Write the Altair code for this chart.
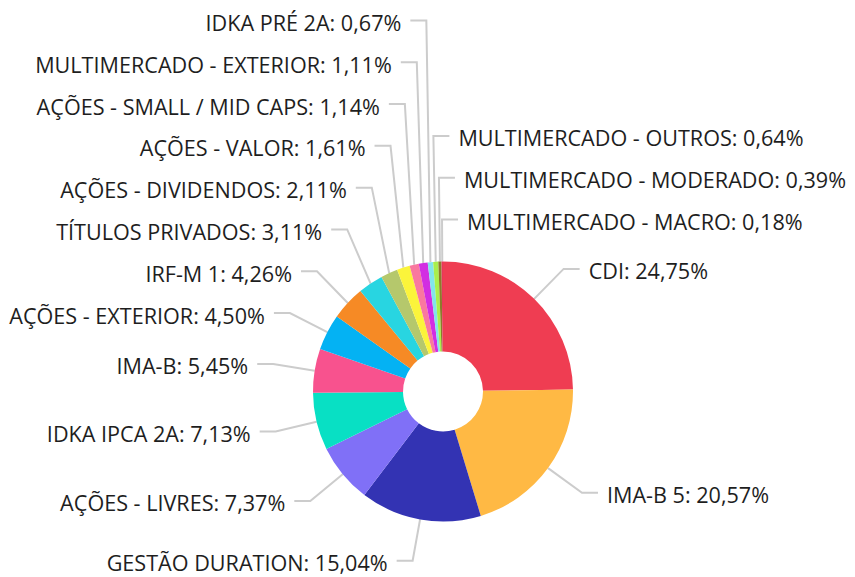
import math
import altair as alt
import pandas as pd

# ---- data -----------------------------------------------------------------
categories = [
    "CDI", "IMA-B 5", "GESTÃO DURATION", "AÇÕES - LIVRES", "IDKA IPCA 2A",
    "IMA-B", "AÇÕES - EXTERIOR", "IRF-M 1", "TÍTULOS PRIVADOS",
    "AÇÕES - DIVIDENDOS", "AÇÕES - VALOR", "AÇÕES - SMALL / MID CAPS",
    "MULTIMERCADO - EXTERIOR", "IDKA PRÉ 2A", "MULTIMERCADO - OUTROS",
    "MULTIMERCADO - MODERADO", "MULTIMERCADO - MACRO",
]
values = [24.75, 20.57, 15.04, 7.37, 7.13, 5.45, 4.50, 4.26, 3.11,
          2.11, 1.61, 1.14, 1.11, 0.67, 0.64, 0.39, 0.18]
colors = [
    "#ef3d52", "#ffb944", "#3333b3", "#8070f7", "#08e0c4",
    "#f8528e", "#04b2f3", "#f68a25", "#28d5e1",
    "#b5c86c", "#fbf43b", "#f9789f",
    "#d22ee2", "#82e5ea", "#a9ef4b",
    "#8d7a2a", "#e8375a",
]

# ---- layout / style constants ----------------------------------------------
W, H = 839, 568
CX, CY = 435, 383.5
R_OUT, R_IN = 130, 40
R_ELBOW = 172
SEG = 16
GAP = 9
SPACING = 41.8
WRAP = 0.012          # slices this close before 12 o'clock label on the right
FONT = "Open Sans"
FSIZE = 21.6
LINE_COLOR = "#cccccc"
TEXT_COLOR = "#1e1e1e"

total = sum(values)
items = []
cum = 0.0
for i, (c, v) in enumerate(zip(categories, values)):
    mid = (cum + v / 2) / total
    cum += v
    ang = 2 * math.pi * mid
    right = mid < 0.5 or mid > 1 - WRAP
    signed = mid - 1 if mid > 0.5 else mid
    label = f"{c}: {v:.2f}%".replace(".", ",")
    items.append(dict(
        idx=i, cat=c, label=label, right=right, mid=mid, signed=signed,
        ex=CX + R_OUT * math.sin(ang), ey=CY - R_OUT * math.cos(ang),
        bx=CX + R_ELBOW * math.sin(ang), ny=CY - R_ELBOW * math.cos(ang),
    ))

# label de-overlap, per side, pushing upwards from the bottom
right_side = sorted([d for d in items if d["right"]], key=lambda d: d["signed"])
left_side = sorted([d for d in items if not d["right"]], key=lambda d: -d["mid"])
for side in (right_side, left_side):
    for k in range(len(side) - 1, -1, -1):
        y = side[k]["ny"]
        if k < len(side) - 1:
            y = min(y, side[k + 1]["ly"] - SPACING)
        side[k]["ly"] = y

line_rows, text_rows = [], []
for d in items:
    sgn = 1 if d["right"] else -1
    end_x = d["bx"] + sgn * SEG
    line_rows += [
        dict(label=d["label"], o=0, px=d["ex"], py=d["ey"]),
        dict(label=d["label"], o=1, px=d["bx"], py=d["ly"]),
        dict(label=d["label"], o=2, px=end_x, py=d["ly"]),
    ]
    text_rows.append(dict(label=d["label"], tx=end_x + sgn * GAP, ty=d["ly"],
                          side="right" if d["right"] else "left"))

slices = pd.DataFrame({"cat": categories, "value": values,
                       "idx": list(range(len(values)))})
lines = pd.DataFrame(line_rows)
texts = pd.DataFrame(text_rows)

pie = alt.Chart(slices).mark_arc(outerRadius=R_OUT, innerRadius=R_IN).encode(
    theta=alt.Theta("value:Q", stack=True),
    order=alt.Order("idx:Q"),
    color=alt.Color("cat:N", scale=alt.Scale(domain=categories, range=colors),
                    legend=None),
    x=alt.value(CX),
    y=alt.value(CY),
)

leaders = alt.Chart(lines).mark_line(color=LINE_COLOR, strokeWidth=2).encode(
    x=alt.X("px:Q", scale=None, axis=None),
    y=alt.Y("py:Q", scale=None, axis=None),
    detail="label:N",
    order="o:Q",
)

text_base = alt.Chart(texts).encode(
    x=alt.X("tx:Q", scale=None, axis=None),
    y=alt.Y("ty:Q", scale=None, axis=None),
    text="label:N",
)
text_left = text_base.transform_filter(alt.datum.side == "left").mark_text(
    align="right", baseline="middle", dy=4.5, font=FONT, fontSize=FSIZE,
    color=TEXT_COLOR)
text_right = text_base.transform_filter(alt.datum.side == "right").mark_text(
    align="left", baseline="middle", dy=4.5, font=FONT, fontSize=FSIZE,
    color=TEXT_COLOR)

chart = alt.layer(leaders, pie, text_left, text_right).properties(
    width=W, height=H, padding=0, autosize=alt.AutoSizeParams(type="none"),
    background="white",
).configure_view(stroke=None)

chart.save("out.html", embed_options={"renderer": "svg", "actions": False})
